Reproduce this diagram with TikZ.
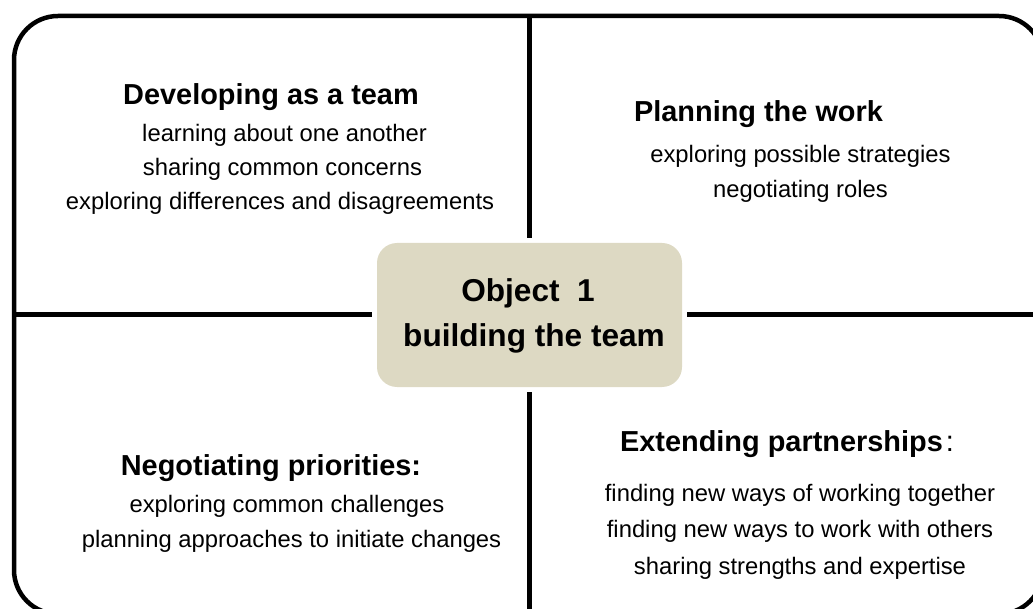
\documentclass[tikz,border=0pt]{standalone}
\usepackage{fontspec}
\setmainfont{Liberation Sans}
\definecolor{boxtan}{HTML}{DDD9C3}
\begin{document}
\begin{tikzpicture}[x=1pt,y=-1pt,
  head/.style={anchor=base, font=\fontsize{28.9}{34}\selectfont\bfseries, inner sep=0pt},
  body/.style={anchor=base, font=\fontsize{23.8}{28}\selectfont, inner sep=0pt},
  ctext/.style={anchor=base, font=\fontsize{31.6}{38}\selectfont\bfseries, inner sep=0pt},
  frame/.style={line width=4.5pt},
  divider/.style={line width=5pt},
  objbox/.style={fill=boxtan, rounded corners=20pt, minimum width=305pt, minimum height=144pt, outer sep=5pt, inner sep=0pt}]
\useasboundingbox (0,0) rectangle (1033,609);
\clip (0,0) rectangle (1033,609);
% centre box
\node[objbox] (obj) at (529.5,315) {};
% frame reference points
\coordinate (ft) at (529,16);
\coordinate (fb) at (529,614);
\coordinate (fl) at (14,314.5);
\coordinate (fr) at (1043,314.5);
% dividers
\draw[divider] (ft) -- (ft |- obj.north);
\draw[divider] (fb |- obj.south) -- (fb);
\draw[divider] (fl) -- (fl -| obj.west);
\draw[divider] (fr -| obj.east) -- (fr);
% frame
\draw[frame, rounded corners=44pt] (14,16) rectangle (1043,614);
% centre text
\node[ctext] (o1) at (528,302) {Object\ \ 1};
\node[ctext] (o2) at (534,347) {building the team};
% top left
\node[head] (h1) at (271,105) {Developing as a team};
\node[body] (a1) at (284.5,141.5) {learning about one another};
\node[body] (a2) at (282.5,176) {sharing common concerns};
\node[body] (a3) at (280,209.5) {exploring differences and disagreements};
% top right
\node[head] (h2) at (758.5,121.5) {Planning the work};
\node[body] (b1) at (800.5,163) {exploring possible strategies};
\node[body] (b2) at (800.5,198) {negotiating roles};
% bottom left
\node[head] (h3) at (271,475) {Negotiating priorities:};
\node[body] (c1) at (287,512) {exploring common challenges};
\node[body] (c2) at (291.5,547) {planning approaches to initiate changes};
% bottom right
\node[head] (h4) at (787,451) {Extending partnerships\hspace{3pt}{\mdseries :}};
\node[body] (d1) at (800,501) {finding new ways of working together};
\node[body] (d2) at (800,537) {finding new ways to work with others};
\node[body] (d3) at (800,574) {sharing strengths and expertise};
\end{tikzpicture}
\end{document}
